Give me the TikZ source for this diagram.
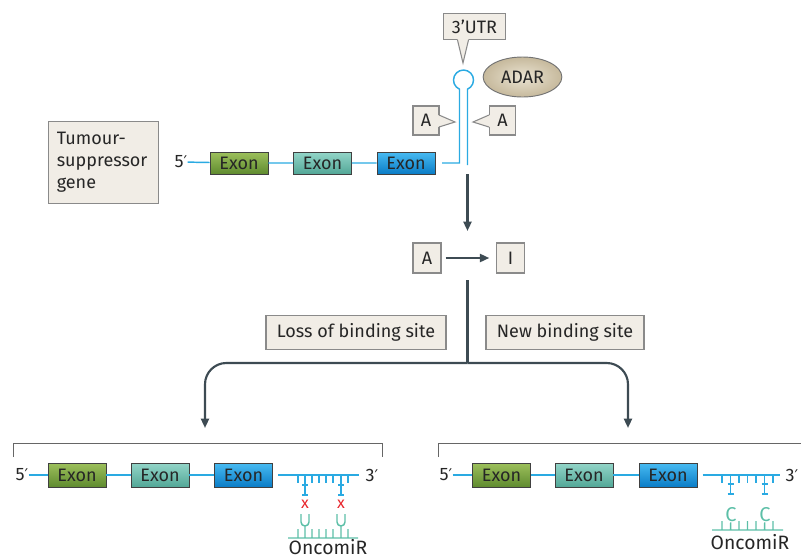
\documentclass[tikz,border=0pt]{standalone}
\usepackage{fontspec}
\setmainfont{Fira Sans}
\newfontfamily\primefont{DejaVu Sans}
\usetikzlibrary{arrows.meta,shapes.geometric}

\definecolor{lineblue}{HTML}{2AAAE2}
\definecolor{boxfill}{HTML}{F1EDE6}
\definecolor{boxline}{HTML}{8A8A8A}
\definecolor{arrowdark}{HTML}{3D4B53}
\definecolor{mirteal}{HTML}{5CBFA7}
\definecolor{crossred}{HTML}{E8262C}
\definecolor{greenhi}{HTML}{9DC05C}
\definecolor{greenlo}{HTML}{5F8B2F}
\definecolor{tealhi}{HTML}{93D5C8}
\definecolor{teallo}{HTML}{52A797}
\definecolor{bluehi}{HTML}{48BBF2}
\definecolor{bluelo}{HTML}{0A7CC6}
\definecolor{adarhi}{HTML}{EAE3D2}
\definecolor{adarlo}{HTML}{C6B99C}

\newcommand{\pr}{{\primefont\fontsize{12}{14}\selectfont ′}}

\tikzset{
  tagbox/.style={draw=boxline, fill=boxfill, line width=0.8pt, inner sep=0pt, text=black!85, font=\fontsize{13.5}{16}\selectfont},
  exonbox/.style={draw=black!75, line width=0.6pt, minimum width=43.5pt, minimum height=16.5pt, inner sep=0pt, text=black!85, font=\fontsize{13.5}{16}\selectfont},
  exgreen/.style={exonbox, top color=greenhi, bottom color=greenlo},
  exteal/.style={exonbox, top color=tealhi, bottom color=teallo},
  exblue/.style={exonbox, top color=bluehi, bottom color=bluelo},
  gene/.style={draw=lineblue, line width=1.1pt},
  mir/.style={draw=mirteal, line width=1.1pt},
  flow/.style={draw=arrowdark, line width=1.6pt},
  flowtip/.style={flow, -{Triangle[length=7pt,width=6pt]}},
  bracket/.style={draw=black!60, line width=0.7pt},
  lbl/.style={inner sep=0pt, text=black!85, font=\fontsize{13.5}{16}\selectfont},
}

\begin{document}
\begin{tikzpicture}[x=0.75pt,y=0.75pt,yscale=-1,xscale=1]
\clip (0,0) rectangle (801,558);

% Callout 3'UTR
\node[tagbox, minimum width=47pt, minimum height=20pt] (utr) at (474.5,26.5) {3’UTR};
\fill[boxfill] (457.5,39) -- (463,63) -- (468.5,39) -- cycle;
\draw[boxline, line width=0.8pt] (457.5,40) -- (463,63) -- (468.5,40);

% ADAR
\node[ellipse, draw=black!55, line width=0.7pt, inner color=adarhi, outer color=adarlo, minimum width=59pt, minimum height=30pt, inner sep=0pt, text=black!85, font=\fontsize{13.5}{16}\selectfont] (adar) at (522.5,77) {ADAR};

% Callouts A
\node[tagbox, minimum width=19.5pt, minimum height=21.75pt] (aleft) at (426,120.5) {A};
\fill[boxfill] (438,115) -- (455,122) -- (438,127) -- cycle;
\draw[boxline, line width=0.8pt] (439,115) -- (455,122) -- (439,127);
\node[tagbox, minimum width=19.5pt, minimum height=21.75pt] (aright) at (502.5,120.5) {A};
\fill[boxfill] (490,115) -- (473,122) -- (490,127) -- cycle;
\draw[boxline, line width=0.8pt] (489,115) -- (473,122) -- (489,127);

% Tumour-suppressor gene
\node[tagbox, minimum width=83pt, minimum height=61pt, text width=70pt, inner xsep=6.5pt, align=left, font=\fontsize{13.5}{16.5}\selectfont] (tsg) at (103.5,162.5) {Tumour-\\suppressor\\gene};

% Top gene with hairpin
\node[lbl] (fivetop) at (181,162) {5\pr};
\node[exgreen] (exatop) at (239,163) {Exon};
\node[exteal] (exbtop) at (322.5,163) {Exon};
\node[exblue] (exctop) at (406,163) {Exon};
\coordinate (stemL) at (459.5,163);
\coordinate (stemR) at (467.5,165);
\draw[gene, shorten <=5pt] (fivetop) -- (exatop) -- (exbtop) -- (exctop) -- (stemL) -- (459.5,89.2)
  arc[start angle=113.6, end angle=426.4, radius=10] -- (stemR);

% Editing
\coordinate (drop0) at (467.5,174);
\coordinate (drop1) at (467.5,231);
\draw[flowtip] (drop0) -- (drop1);
\node[tagbox, minimum width=21pt, minimum height=22.5pt] (ina) at (427,258) {A};
\node[tagbox, minimum width=21pt, minimum height=22.5pt] (outi) at (510.5,258) {I};
\draw[flowtip, shorten <=3pt, shorten >=5pt] (ina) -- (outi);

% Branches
\coordinate (split0) at (467.5,280);
\coordinate (split1) at (467.5,363);
\coordinate (leftend) at (205,428);
\coordinate (rightend) at (628,428);
\draw[flow] (split0) -- (split1);
\draw[flowtip, rounded corners=16pt] (split1) -| (leftend);
\draw[flowtip, rounded corners=16pt] (split1) -| (rightend);
\node[tagbox, minimum width=135pt, minimum height=26pt] (loss) at (356,332.5) {Loss of binding site};
\node[tagbox, minimum width=118.5pt, minimum height=26pt] (gain) at (565,332.5) {New binding site};

% Bottom left: loss of binding site
\draw[bracket] (13,457) -- (13,443) -- (382,443) -- (382,457);
\node[lbl] (fiveL) at (22,475) {5\pr};
\node[exgreen, minimum height=18pt] (exaL) at (77,475) {Exon};
\node[exteal, minimum height=18pt] (exbL) at (160,475) {Exon};
\node[exblue, minimum height=18pt] (excL) at (243.5,475) {Exon};
\node[lbl] (threeL) at (372,475) {3\pr};
\draw[gene, shorten <=4pt, shorten >=5pt] (fiveL) -- (exaL) -- (exbL) -- (excL) -- (threeL);
\draw[gene] (298,475) -- (298,483) (312,475) -- (312,483) (319,475) -- (319,483)
  (326,475) -- (326,483) (333,475) -- (333,483) (348,475) -- (348,483)
  (305,475) -- (305,495) (341,475) -- (341,495)
  (302,485) -- (308,485) (302,495) -- (308,495) (338,485) -- (344,485) (338,495) -- (344,495);
\node[text=crossred, inner sep=0pt, font=\fontsize{12}{14}\selectfont] (xa) at (305,504) {x};
\node[text=crossred, inner sep=0pt, font=\fontsize{12}{14}\selectfont] (xb) at (341,504) {x};
\draw[mir] (288,538) -- (358,538)
  (298,538) -- (298,529) (312,538) -- (312,529) (319,538) -- (319,529)
  (326,538) -- (326,529) (333,538) -- (333,529) (348,538) -- (348,529)
  (305,538) -- (305,526) (341,538) -- (341,526)
  (301,514) -- (301,522) arc[start angle=180, end angle=0, radius=4] -- (309,514)
  (337,514) -- (337,522) arc[start angle=180, end angle=0, radius=4] -- (345,514);
\node[lbl, font=\fontsize{14.5}{16}\selectfont] (mirL) at (328,547) {OncomiR};

% Bottom right: new binding site
\draw[bracket] (438,457) -- (438,443) -- (805,443);
\node[lbl] (fiveR) at (446,475) {5\pr};
\node[exgreen, minimum height=18pt] (exaR) at (501.5,475) {Exon};
\node[exteal, minimum height=18pt] (exbR) at (584,475) {Exon};
\node[exblue, minimum height=18pt] (excR) at (668,475) {Exon};
\node[lbl] (threeR) at (792,475) {3\pr};
\draw[gene, shorten <=4pt, shorten >=4pt] (fiveR) -- (exaR) -- (exbR) -- (excR) -- (threeR);
\draw[gene] (722,475) -- (722,483) (739,475) -- (739,483) (747.5,475) -- (747.5,483)
  (756,475) -- (756,483) (773,475) -- (773,483)
  (730.5,475) -- (730.5,494) (764.5,475) -- (764.5,494)
  (727.5,484) -- (733.5,484) (727.5,494) -- (733.5,494) (761.5,484) -- (767.5,484) (761.5,494) -- (767.5,494);
\node[text=mirteal, inner sep=0pt, font=\fontsize{15}{16}\selectfont] (ca) at (731,515) {C};
\node[text=mirteal, inner sep=0pt, font=\fontsize{15}{16}\selectfont] (cb) at (765,515) {C};
\draw[mir] (712,530) -- (783,530)
  (722,530) -- (722,521) (739,530) -- (739,521) (747.5,530) -- (747.5,521)
  (756,530) -- (756,521) (773,530) -- (773,521)
  (ca) -- (730.5,530) (cb) -- (764.5,530);
\node[lbl, font=\fontsize{14.5}{16}\selectfont] (mirR) at (750,542) {OncomiR};

\end{tikzpicture}
\end{document}
